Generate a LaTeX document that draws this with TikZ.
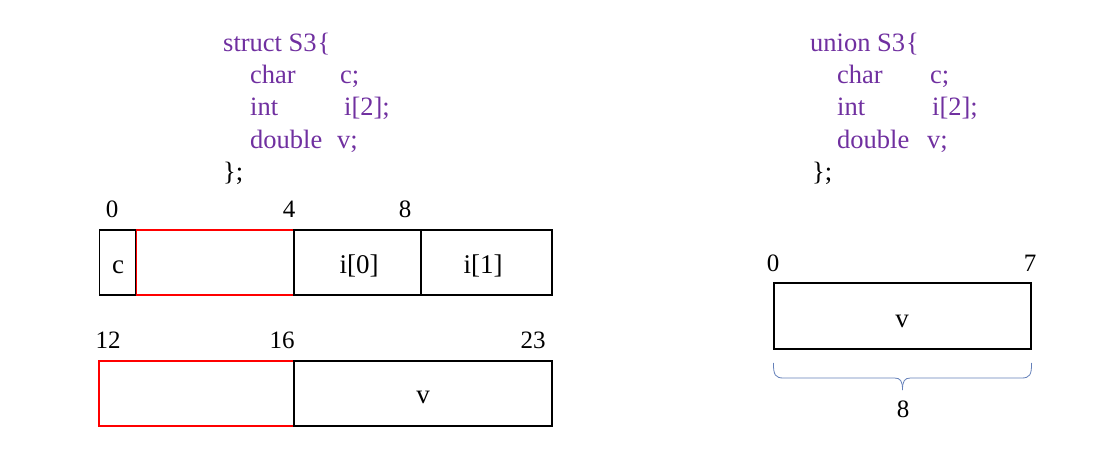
\documentclass[tikz,border=0pt]{standalone}
\usepackage{fontspec}
\setmainfont{Liberation Serif}
\usetikzlibrary{calc}
\definecolor{codepurple}{RGB}{112,48,160}
\definecolor{bracecol}{RGB}{100,128,185}
\begin{document}
\begin{tikzpicture}[x=1pt,y=-1pt,
  cell/.style={draw=black,line width=1.2pt,inner sep=0pt},
  redcell/.style={draw=red,line width=1.2pt,inner sep=0pt},
  lab/.style={inner sep=0pt,anchor=base,font=\fontsize{27}{30}\selectfont},
  code/.style={text=codepurple,inner sep=0pt,anchor=base west,font=\fontsize{26.5}{30}\selectfont},
  num/.style={inner sep=0pt,anchor=base,font=\fontsize{25}{28}\selectfont},
  bracel/.style={draw=bracecol,line width=0.8pt}]
\useasboundingbox (0,0) rectangle (1109,473);
% struct code
\node[code] (s0) at (223,52) {struct S3\kern1pt\{};
\node[code] (s1) at (250,84) {char};
\node[code] (s1b) at (340,84) {c;};
\node[code] (s2) at (250,116) {int};
\node[code] (s2b) at (344,116) {i[2];};
\node[code] (s3) at (250,149) {double};
\node[code] (s3b) at (337,149) {v;};
\node[code,text=black] (s4) at (223,181) {\};};
% union code
\node[code] (u0) at (810,52) {union S3\kern1pt\{};
\node[code] (u1) at (837,84) {char};
\node[code] (u1b) at (930,84) {c;};
\node[code] (u2) at (837,116) {int};
\node[code] (u2b) at (932,116) {i[2];};
\node[code] (u3) at (837,149) {double};
\node[code] (u3b) at (927,149) {v;};
\node[code,text=black] (u4) at (812,181) {\};};
% row 1
\node[num] (n0) at (112,218) {0};
\node[num] (n4) at (289,218) {4};
\node[num] (n8) at (405,218) {8};
\node[cell,minimum width=36pt,minimum height=65pt] (cc) at (117.5,262.5) {};
\node[redcell,minimum width=157pt,minimum height=65pt] (pad1) at (215,262.5) {};
\node[cell,minimum width=127pt,minimum height=65pt] (i0) at (357.5,262.5) {};
\node[cell,minimum width=131pt,minimum height=65pt] (i1) at (486.5,262.5) {};
\node[lab] (lc) at (118,274) {c};
\node[lab] (li0) at (359,274) {i[0]};
\node[lab] (li1) at (483,274) {i[1]};
% row 2
\node[num] (n12) at (108,348) {12};
\node[num] (n16) at (282,348) {16};
\node[num] (n23) at (533,348) {23};
\node[redcell,minimum width=195pt,minimum height=65pt] (pad2) at (196.5,393.5) {};
\node[cell,minimum width=258pt,minimum height=65pt] (vv) at (423,393.5) {};
\node[lab] (lv) at (423,403) {v};
% union
\node[num] (m0) at (773,272) {0};
\node[num] (m7) at (1030,272) {7};
\node[cell,minimum width=257pt,minimum height=66pt] (uv) at (902.5,316) {};
\node[lab] (luv) at (902,327) {v};
\coordinate (bl) at (uv.south west |- 0,363);
\coordinate (br) at (uv.south east |- 0,363);
\coordinate (bt) at (902.5,390);
\draw[bracel] (bl) .. controls ($(bl)+(0,12)$) and ($(bl)+(2,15)$) .. ($(bl)+(10,15)$)
  -- ($(bt)+(-8,-12)$) .. controls ($(bt)+(-2,-12)$) and ($(bt)+(0,-9)$) .. (bt);
\draw[bracel] (br) .. controls ($(br)+(0,12)$) and ($(br)+(-2,15)$) .. ($(br)+(-10,15)$)
  -- ($(bt)+(8,-12)$) .. controls ($(bt)+(2,-12)$) and ($(bt)+(0,-9)$) .. (bt);
\node[num] (m8) at (903,417) {8};
\end{tikzpicture}
\end{document}
